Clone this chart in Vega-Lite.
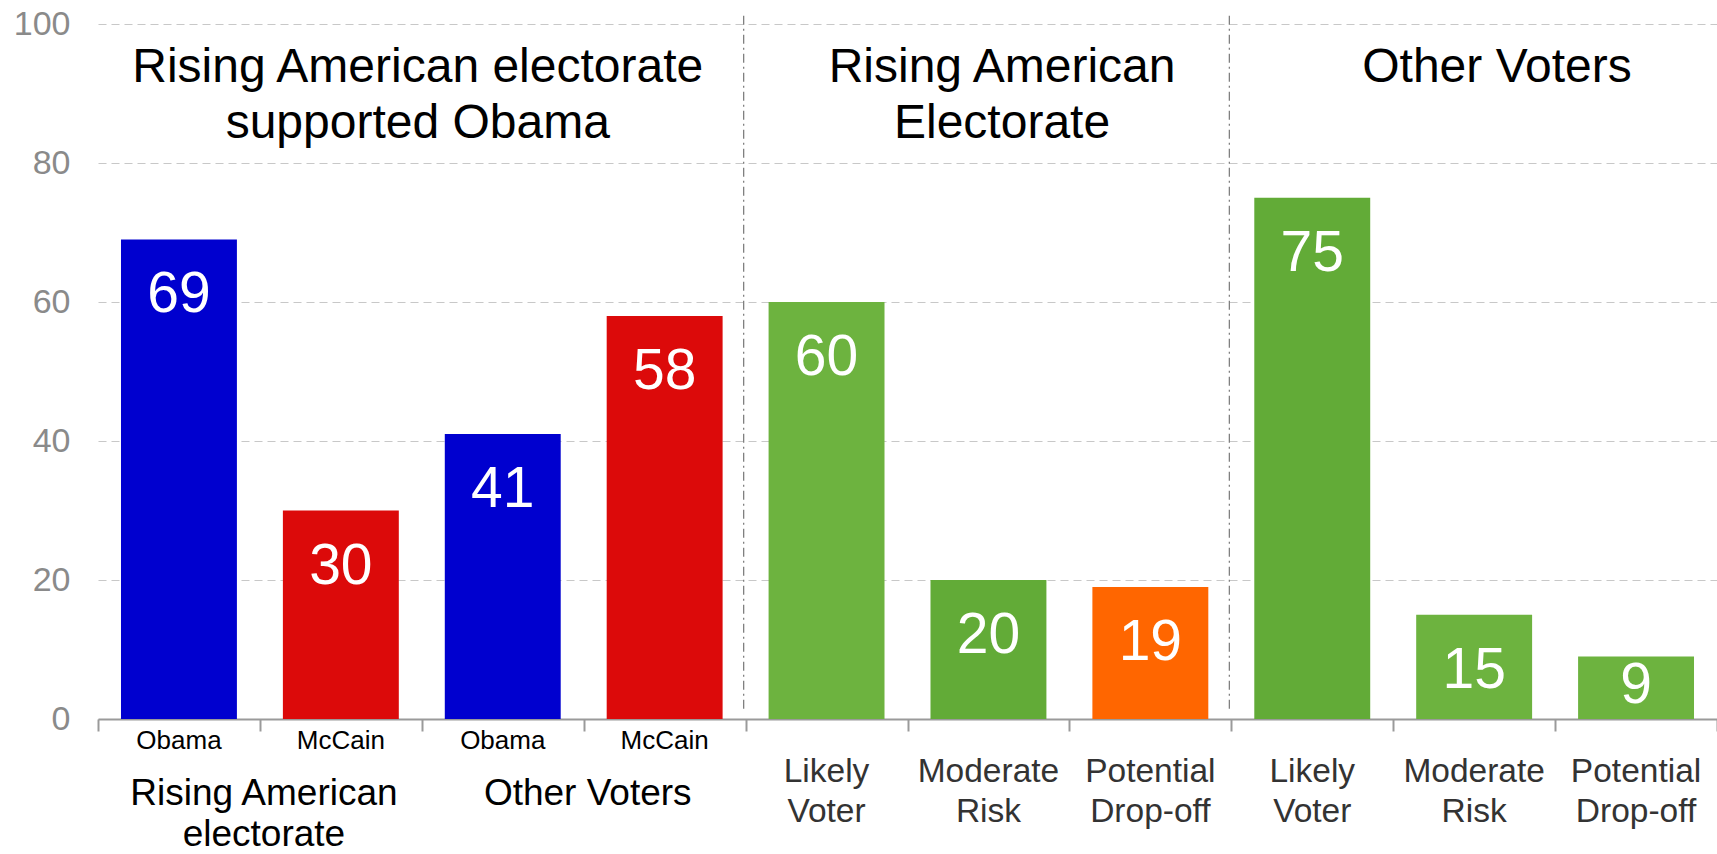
{
  "$schema": "https://vega.github.io/schema/vega-lite/v6.json",
  "width": 1619,
  "height": 695,
  "autosize": {"type": "none"},
  "padding": {"left": 98, "top": 24, "right": 0, "bottom": 135},
  "background": "white",
  "config": {"view": {"stroke": null}, "font": "Liberation Sans"},
  "datasets": {
    "bars": [
      {"key": "Obama|1", "label": "Obama", "value": 69},
      {"key": "McCain|1", "label": "McCain", "value": 30},
      {"key": "Obama|2", "label": "Obama", "value": 41},
      {"key": "McCain|2", "label": "McCain", "value": 58},
      {"key": "Likely Voter|1", "label": "Likely\nVoter", "value": 60},
      {"key": "Moderate Risk|1", "label": "Moderate\nRisk", "value": 20},
      {"key": "Potential Drop-off|1", "label": "Potential\nDrop-off", "value": 19},
      {"key": "Likely Voter|2", "label": "Likely\nVoter", "value": 75},
      {"key": "Moderate Risk|2", "label": "Moderate\nRisk", "value": 15},
      {"key": "Potential Drop-off|2", "label": "Potential\nDrop-off", "value": 9}
    ],
    "titles": [
      {"name": "top1", "key": "Obama|2", "text": "Rising American electorate\nsupported Obama"},
      {"name": "top2", "key": "Moderate Risk|1", "text": "Rising American\nElectorate"},
      {"name": "top3", "key": "Moderate Risk|2", "text": "Other Voters"},
      {"name": "grp1", "key": "McCain|1", "text": "Rising American\nelectorate"},
      {"name": "grp2", "key": "McCain|2", "text": "Other Voters"}
    ],
    "separators": [
      {"key": "Likely Voter|1"},
      {"key": "Likely Voter|2"}
    ]
  },
  "layer": [
    {
      "data": {"name": "bars"},
      "mark": {"type": "bar", "width": {"band": 0.716}},
      "encoding": {
        "x": {
          "field": "key", "type": "nominal", "sort": null,
          "scale": {"domain": ["Obama|1","McCain|1","Obama|2","McCain|2","Likely Voter|1","Moderate Risk|1","Potential Drop-off|1","Likely Voter|2","Moderate Risk|2","Potential Drop-off|2"], "paddingInner": 0, "paddingOuter": 0},
          "axis": {
            "title": null,
            "labels": false,
            "tickBand": "extent",
            "tickSize": 12,
            "tickWidth": 2,
            "tickColor": "#9a9a9a",
            "domainColor": "#9a9a9a",
            "domainWidth": 2,
            "grid": false
          }
        },
        "y": {
          "field": "value", "type": "quantitative",
          "scale": {"domain": [0, 100], "nice": false},
          "axis": {
            "title": null,
            "values": [0, 20, 40, 60, 80, 100],
            "domain": false,
            "ticks": false,
            "tickSize": 0,
            "labelFont": "Liberation Sans",
            "labelFontSize": 34,
            "labelColor": "#8a8a8a",
            "labelPadding": 28,
            "gridColor": "#c8c8c8",
            "gridDash": [8, 5],
            "gridWidth": 1.2
          }
        },
        "color": {
          "field": "key", "type": "nominal",
          "scale": {
            "domain": ["Obama|1","McCain|1","Obama|2","McCain|2","Likely Voter|1","Moderate Risk|1","Potential Drop-off|1","Likely Voter|2","Moderate Risk|2","Potential Drop-off|2"],
            "range": ["#0000CF","#DC0A0A","#0000CF","#DC0A0A","#6DB33F","#62AB37","#FF6600","#62AB37","#6DB33F","#6DB33F"]
          },
          "legend": null
        }
      }
    },
    {
      "data": {"name": "bars"},
      "transform": [{"filter": "datum.value >= 12"}],
      "mark": {"type": "text", "align": "center", "baseline": "alphabetic", "dy": 73, "fontSize": 57, "color": "#ffffff", "font": "Liberation Sans"},
      "encoding": {
        "x": {"field": "key", "type": "nominal", "sort": null},
        "y": {"field": "value", "type": "quantitative"},
        "text": {"field": "value", "type": "quantitative"}
      }
    },
    {
      "data": {"name": "bars"},
      "transform": [{"filter": "datum.value < 12"}],
      "mark": {"type": "text", "align": "center", "baseline": "alphabetic", "dy": 47, "fontSize": 57, "color": "#ffffff", "font": "Liberation Sans"},
      "encoding": {
        "x": {"field": "key", "type": "nominal", "sort": null},
        "y": {"field": "value", "type": "quantitative"},
        "text": {"field": "value", "type": "quantitative"}
      }
    },
    {
      "data": {"name": "bars"},
      "transform": [{"filter": "indexof(datum.key, 'Obama') >= 0 || indexof(datum.key, 'McCain') >= 0"}],
      "mark": {"type": "text", "align": "center", "baseline": "alphabetic", "dy": 30, "fontSize": 26, "color": "#000000", "font": "Liberation Sans"},
      "encoding": {
        "x": {"field": "key", "type": "nominal", "sort": null},
        "y": {"datum": 0, "type": "quantitative"},
        "text": {"field": "label", "type": "nominal"}
      }
    },
    {
      "data": {"name": "bars"},
      "transform": [{"filter": "indexof(datum.key, 'Obama') < 0 && indexof(datum.key, 'McCain') < 0"}],
      "mark": {"type": "text", "align": "center", "baseline": "alphabetic", "dy": 63, "fontSize": 33.5, "lineHeight": 40, "lineBreak": "\n", "color": "#333333", "font": "Liberation Sans"},
      "encoding": {
        "x": {"field": "key", "type": "nominal", "sort": null},
        "y": {"datum": 0, "type": "quantitative"},
        "text": {"field": "label", "type": "nominal"}
      }
    },
    {
      "data": {"name": "titles"},
      "transform": [{"filter": "datum.name == 'top1'"}],
      "mark": {"type": "text", "align": "center", "baseline": "alphabetic", "dy": 58, "fontSize": 48, "lineHeight": 56, "lineBreak": "\n", "color": "#000000", "font": "Liberation Sans"},
      "encoding": {
        "x": {"field": "key", "type": "nominal", "sort": null, "bandPosition": -0.025},
        "y": {"datum": 100, "type": "quantitative"},
        "text": {"field": "text", "type": "nominal"}
      }
    },
    {
      "data": {"name": "titles"},
      "transform": [{"filter": "datum.name == 'top2'"}],
      "mark": {"type": "text", "align": "center", "baseline": "alphabetic", "dy": 58, "fontSize": 48, "lineHeight": 56, "lineBreak": "\n", "color": "#000000", "font": "Liberation Sans"},
      "encoding": {
        "x": {"field": "key", "type": "nominal", "sort": null, "bandPosition": 0.584},
        "y": {"datum": 100, "type": "quantitative"},
        "text": {"field": "text", "type": "nominal"}
      }
    },
    {
      "data": {"name": "titles"},
      "transform": [{"filter": "datum.name == 'top3'"}],
      "mark": {"type": "text", "align": "center", "baseline": "alphabetic", "dy": 58, "fontSize": 48, "lineHeight": 56, "lineBreak": "\n", "color": "#000000", "font": "Liberation Sans"},
      "encoding": {
        "x": {"field": "key", "type": "nominal", "sort": null, "bandPosition": 0.641},
        "y": {"datum": 100, "type": "quantitative"},
        "text": {"field": "text", "type": "nominal"}
      }
    },
    {
      "data": {"name": "titles"},
      "transform": [{"filter": "datum.name == 'grp1' || datum.name == 'grp2'"}],
      "mark": {"type": "text", "align": "center", "baseline": "alphabetic", "dy": 86, "fontSize": 37, "lineHeight": 41, "lineBreak": "\n", "color": "#000000", "font": "Liberation Sans"},
      "encoding": {
        "x": {"field": "key", "type": "nominal", "sort": null, "bandPosition": 0.025},
        "y": {"datum": 0, "type": "quantitative"},
        "text": {"field": "text", "type": "nominal"}
      }
    },
    {
      "data": {"name": "separators"},
      "mark": {"type": "rule", "color": "#808080", "strokeWidth": 1.3, "strokeDash": [9, 4, 2, 4]},
      "encoding": {
        "x": {"field": "key", "type": "nominal", "sort": null, "bandPosition": -0.012},
        "y": {"datum": 101.2, "type": "quantitative"},
        "y2": {"datum": 1}
      }
    }
  ]
}
